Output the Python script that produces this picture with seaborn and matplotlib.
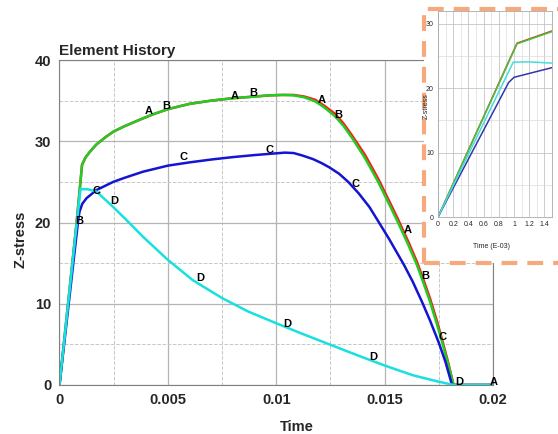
import numpy as np
import pandas as pd
import matplotlib
matplotlib.use('Agg')
import matplotlib.pyplot as plt
import matplotlib.patches as mpatches
import seaborn as sns

# main history curves (time, Z-stress)
t_b = [0, 0.00079, 0.00104, 0.0012, 0.0014, 0.0017, 0.00217, 0.0025, 0.003, 0.0037, 0.0043, 0.005,
       0.006, 0.007, 0.008, 0.009, 0.0097, 0.0103, 0.0108, 0.0113, 0.0118, 0.0122, 0.0127, 0.0131,
       0.0135, 0.0141, 0.0147, 0.0152, 0.0156, 0.0161, 0.0165, 0.0168, 0.0171, 0.0174, 0.01765,
       0.0179, 0.01818, 0.02]
y_b = [0, 20.0, 27.1, 28.0, 28.7, 29.6, 30.6, 31.2, 31.85, 32.65, 33.3, 33.95,
       34.6, 35.0, 35.3, 35.5, 35.65, 35.7, 35.65, 35.4, 34.9, 34.2, 33.1, 31.9,
       30.4, 27.9, 25.0, 22.3, 20.1, 17.2, 14.7, 12.5, 10.2, 7.6, 5.3,
       2.9, 0, 0]
t_a = t_b
y_a = [0, 20.0, 27.1, 28.0, 28.7, 29.6, 30.6, 31.2, 31.85, 32.65, 33.3, 33.95,
       34.6, 35.0, 35.3, 35.5, 35.65, 35.7, 35.7, 35.5, 35.1, 34.4, 33.4, 32.2,
       30.7, 28.3, 25.4, 22.7, 20.5, 17.6, 15.1, 12.9, 10.6, 8.0, 5.6,
       3.1, 0, 0]
t_c = [0, 0.00085, 0.00092, 0.00105, 0.00125, 0.00171, 0.00248, 0.003, 0.00385, 0.005, 0.006,
       0.007, 0.008, 0.009, 0.0097, 0.0104, 0.0108, 0.0112, 0.0117, 0.0121, 0.01244, 0.0129,
       0.01332, 0.0138, 0.0143, 0.01474, 0.0152, 0.01589, 0.0163, 0.01673, 0.0171, 0.0175, 0.0178,
       0.01811, 0.02]
y_c = [0, 20.0, 21.3, 22.3, 23.0, 24.0, 25.0, 25.5, 26.25, 27.0, 27.4,
       27.75, 28.05, 28.3, 28.45, 28.6, 28.55, 28.25, 27.8, 27.3, 26.8, 26.0,
       25.0, 23.6, 21.9, 20.0, 18.0, 14.8, 12.7, 10.2, 7.9, 5.2, 2.9,
       0, 0]
t_d = [0, 0.0008, 0.00097, 0.0013, 0.00171, 0.00248, 0.00309, 0.00385, 0.005, 0.00615, 0.0075,
       0.0087, 0.01, 0.0112, 0.0125, 0.0138, 0.015, 0.0163, 0.0175, 0.0182, 0.02]
y_d = [0, 20.0, 24.1, 24.1, 23.8, 21.9, 20.3, 18.25, 15.4, 12.9, 10.7,
       9.05, 7.6, 6.3, 4.95, 3.6, 2.4, 1.2, 0.4, 0, 0]

# curve letters
lab_text = ['A', 'B', 'A', 'B', 'A', 'B', 'A', 'B', 'A',
            'B', 'C', 'C', 'C', 'C', 'C',
            'D', 'D', 'D', 'D', 'D']
lab_x = [0.00412, 0.00493, 0.00809, 0.00892, 0.01209, 0.01287, 0.01605, 0.01686, 0.02003,
         0.00091, 0.00171, 0.0057, 0.00971, 0.01367, 0.01765,
         0.00252, 0.00651, 0.0105, 0.01448, 0.01845]
lab_y = [33.7, 34.3, 35.6, 35.9, 35.1, 33.2, 19.1, 13.4, 0.4,
         20.2, 23.9, 28.0, 28.9, 24.7, 5.9,
         22.7, 13.2, 7.5, 3.4, 0.4]

# inset (time in E-03)
in_t_a = [0, 1.04, 1.5]
in_y_a = [0, 27.0, 28.9]
in_t_b = [0, 1.04, 1.5]
in_y_b = [0, 26.9, 28.8]
in_t_c = [0, 0.93, 1.0, 1.5]
in_y_c = [0, 20.9, 21.7, 23.2]
in_t_d = [0, 0.99, 1.2, 1.5]
in_y_d = [0, 24.05, 24.1, 23.9]

colors = {'A': '#ff1a1a', 'B': '#22cc22', 'C': '#1414d2', 'D': '#19e0e0'}
in_colors = {'A': '#cc3a2a', 'B': '#4cc03c', 'C': '#3434b0', 'D': '#44dddd'}


def long_df(parts):
    frames = [pd.DataFrame({'time': t, 'stress': y, 'series': s}) for s, t, y in parts]
    return pd.concat(frames, ignore_index=True)


main_df = long_df([('A', t_a, y_a), ('B', t_b, y_b), ('C', t_c, y_c), ('D', t_d, y_d)])
inset_df = long_df([('A', in_t_a, in_y_a), ('B', in_t_b, in_y_b), ('C', in_t_c, in_y_c), ('D', in_t_d, in_y_d)])

sns.set_style('white')
plt.rcParams['font.family'] = ['Liberation Sans', 'DejaVu Sans']

fig = plt.figure(figsize=(5.58, 4.34), dpi=100)
ax = fig.add_axes([59.5 / 558, 1 - 385 / 434, 433.5 / 558, 325 / 434])

sns.lineplot(data=main_df, x='time', y='stress', hue='series', palette=colors,
             sort=False, estimator=None, legend=False, linewidth=1.8, ax=ax)

for s, x, y in zip(lab_text, lab_x, lab_y):
    ax.text(x, y, s, ha='center', va='center', fontsize=8, fontweight='bold', color='black')

ax.set_xlim(0, 0.02)
ax.set_ylim(0, 40)
ax.set_xticks([0, 0.005, 0.01, 0.015, 0.02])
ax.set_xticklabels(['0', '0.005', '0.01', '0.015', '0.02'])
ax.set_yticks([0, 10, 20, 30, 40])
ax.set_xticks(np.arange(0.0025, 0.02, 0.005), minor=True)
ax.set_yticks([5, 15, 25, 35], minor=True)
ax.grid(which='major', color='#b4b4b4', linewidth=0.9)
ax.grid(which='minor', color='#c8c8c8', linestyle='--', linewidth=0.7)
ax.set_axisbelow(True)
ax.tick_params(which='major', length=3, color='#808080', labelsize=10.5, pad=3)
ax.tick_params(which='minor', length=0)
for lbl in ax.get_xticklabels() + ax.get_yticklabels():
    lbl.set_fontweight('bold')
for sp in ax.spines.values():
    sp.set_color('#808080')
ax.set_xlabel('')
ax.set_ylabel('')

fig.text(59 / 558, 1 - 51 / 434, 'Element History', ha='left', va='center', fontsize=11, fontweight='bold')
fig.text(20.8 / 558, 1 - 239 / 434, 'Z-stress', rotation=90, ha='center', va='center', fontsize=10.5, fontweight='bold')
fig.text(297 / 558, 1 - 427 / 434, 'Time', ha='center', va='center', fontsize=10.5, fontweight='bold')

# inset frame
box = mpatches.Rectangle((424 / 558, 1 - 263 / 434), 0.3, (263 - 9) / 434, transform=fig.transFigure,
                         facecolor='white', edgecolor='#f5a97c', linewidth=3, linestyle=(0, (3.8, 2.4)),
                         clip_on=False, zorder=1)
fig.patches.append(box)

ins = fig.add_axes([438 / 558, 1 - 217 / 434, 114 / 558, 206 / 434])
ins.set_zorder(2)
sns.lineplot(data=inset_df, x='time', y='stress', hue='series', palette=in_colors,
             sort=False, estimator=None, legend=False, linewidth=1.1, ax=ins)
ins.set_xlim(0, 1.5)
ins.set_ylim(0, 32)
ins.set_xticks(np.arange(0, 1.41, 0.2))
ins.set_xticklabels(['0', '0.2', '0.4', '0.6', '0.8', '1', '1.2', '1.4'])
ins.set_yticks([0, 10, 20, 30])
ins.set_xticks(np.arange(0.1, 1.5, 0.2), minor=True)
ins.set_yticks([5, 15, 25], minor=True)
ins.grid(which='major', color='#c4c4c4', linewidth=0.6)
ins.grid(which='minor', color='#dcdcdc', linewidth=0.5)
ins.set_axisbelow(True)
ins.tick_params(which='major', length=1.5, labelsize=5, pad=1.5, color='#888888')
ins.tick_params(which='minor', length=0)
for sp in ins.spines.values():
    sp.set_color('#aaaaaa')
    sp.set_linewidth(0.6)
ins.set_xlabel('')
ins.set_ylabel('')
fig.text(491.7 / 558, 1 - 246.7 / 434, 'Time (E-03)', ha='center', va='center', fontsize=5, zorder=3)
fig.text(426 / 558, 1 - 106 / 434, 'Z-stress', rotation=90, ha='center', va='center', fontsize=5, zorder=3)

fig.savefig('out.png', dpi=100)
